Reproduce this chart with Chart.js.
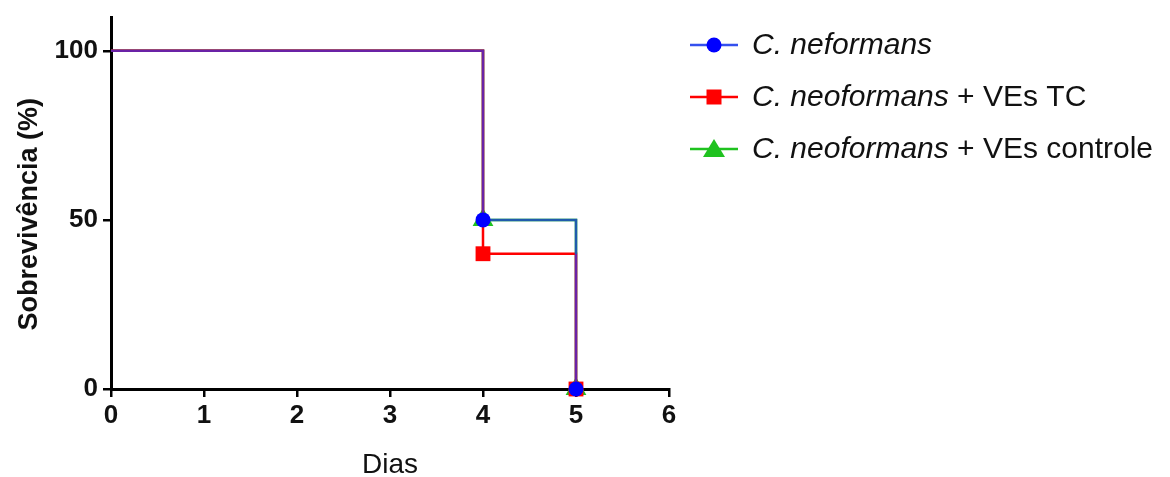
<!DOCTYPE html>
<html>
<head>
<meta charset="utf-8">
<script src="https://cdn.jsdelivr.net/npm/chart.js@4/dist/chart.umd.min.js"></script>
<style>
    html, body { margin: 0; padding: 0; background: #fff; }
    #wrap { width: 1170px; height: 477px; position: relative; }
</style>
</head>
<body>
<div id="wrap"><canvas id="survChart"></canvas></div>
<script>
// Survival data (Kaplan-Meier steps)
const days = [0, 4, 5];
const survNeo = [100, 50, 0];
const survTC = [100, 40, 0];
const survCtrl = [100, 50, 0];
const xTicks = [0, 1, 2, 3, 4, 5, 6];
const yTicks = [0, 50, 100];

const legendItalic = ['C. neformans', 'C. neoformans', 'C. neoformans'];
const legendRest = ['', ' + VEs TC', ' + VEs controle'];

const FONT = "'Liberation Sans', Arial, sans-serif";
const PURPLE = '#6a22a6';
const STEEL = '#1f5bab';

function toPoints(ys) {
    return days.map((d, i) => ({ x: d, y: ys[i] }));
}

// blue line: shared part purple, then steel blue, last drop purple below red level
function neoSegmentColor(ctx) {
    if (ctx.p0DataIndex === 0) return PURPLE;
    const y40 = ctx.chart.scales.y.getPixelForValue(survTC[ctx.p0DataIndex]);
    const y0 = ctx.p0.y, y1 = ctx.p1.y;
    if (y1 - y0 < 1) return STEEL;
    const t = Math.min(1, Math.max(0, (y40 - y0) / (y1 - y0)));
    const g = ctx.chart.ctx.createLinearGradient(0, y0, 0, y1);
    g.addColorStop(0, STEEL);
    g.addColorStop(t, STEEL);
    g.addColorStop(t, PURPLE);
    g.addColorStop(1, PURPLE);
    return g;
}

// custom legend with mixed italic text
const legendPlugin = {
    id: 'customLegend',
    afterDraw(chart) {
        const ctx = chart.ctx;
        const lineColors = ['#3450ee', '#ff0000', '#1fc21f'];
        ctx.save();
        chart.data.datasets.forEach((ds, i) => {
            const y = 45 + i * 52;
            ctx.strokeStyle = lineColors[i];
            ctx.lineWidth = 2.5;
            ctx.beginPath();
            ctx.moveTo(690, y);
            ctx.lineTo(738, y);
            ctx.stroke();
            ctx.fillStyle = ds.pointBackgroundColor;
            ctx.beginPath();
            if (ds.pointStyle === 'circle') {
                ctx.arc(714, y, 7.5, 0, Math.PI * 2);
            } else if (ds.pointStyle === 'rect') {
                ctx.rect(714 - 7.5, y - 7.5, 15, 15);
            } else {
                ctx.moveTo(714, y - 10);
                ctx.lineTo(714 + 11, y + 8);
                ctx.lineTo(714 - 11, y + 8);
                ctx.closePath();
            }
            ctx.fill();

            ctx.fillStyle = '#111';
            ctx.textBaseline = 'middle';
            ctx.font = 'italic 30px ' + FONT;
            ctx.fillText(legendItalic[i], 752, y + 1);
            const w = ctx.measureText(legendItalic[i]).width;
            ctx.font = '30px ' + FONT;
            ctx.fillText(legendRest[i], 752 + w, y + 1);
        });
        ctx.restore();
    }
};

const ctx = document.getElementById('survChart').getContext('2d');
new Chart(ctx, {
    type: 'line',
    data: {
        datasets: [
            {
                label: 'C. neformans',
                data: toPoints(survNeo),
                stepped: 'before',
                borderColor: STEEL,
                borderWidth: 2.5,
                segment: { borderColor: neoSegmentColor },
                pointStyle: 'circle',
                pointRadius: [0, 7.5, 7.5],
                pointBackgroundColor: '#0000ff',
                pointBorderWidth: 0,
                order: 1,
                clip: false
            },
            {
                label: 'C. neoformans + VEs TC',
                data: toPoints(survTC),
                stepped: 'before',
                borderColor: '#ff0000',
                borderWidth: 2.5,
                pointStyle: 'rect',
                pointRadius: [0, 10.5, 10.5],
                pointBackgroundColor: '#ff0000',
                pointBorderWidth: 0,
                order: 2,
                clip: false
            },
            {
                label: 'C. neoformans + VEs controle',
                data: toPoints(survCtrl),
                stepped: 'before',
                borderColor: '#1fc21f',
                borderWidth: 2.5,
                pointStyle: 'triangle',
                pointRadius: [0, 12, 12],
                pointBackgroundColor: '#1fc21f',
                pointBorderWidth: 0,
                order: 3,
                clip: false
            }
        ]
    },
    options: {
        responsive: true,
        maintainAspectRatio: false,
        animation: false,
        layout: { padding: { top: 17, right: 501, left: 0, bottom: 0 } },
        plugins: {
            legend: { display: false },
            tooltip: { enabled: false }
        },
        scales: {
            x: {
                type: 'linear',
                min: 0,
                max: 6,
                afterBuildTicks: axis => { axis.ticks = xTicks.map(v => ({ value: v })); },
                afterFit: axis => { axis.height = 88; },
                grid: { drawOnChartArea: false, color: '#000', lineWidth: 2.5, tickLength: 8 },
                border: { color: '#000', width: 3 },
                ticks: {
                    color: '#111',
                    padding: 3,
                    font: { family: FONT, size: 26, weight: 'bold' }
                },
                title: {
                    display: true,
                    text: 'Dias',
                    color: '#111',
                    padding: { top: 0, bottom: 0 },
                    font: { family: FONT, size: 28, lineHeight: 0.85 }
                }
            },
            y: {
                min: 0,
                max: 110,
                afterBuildTicks: axis => { axis.ticks = yTicks.map(v => ({ value: v })); },
                afterFit: axis => {
                    axis.width = 111;
                    axis.paddingTop = 0;
                    axis.paddingBottom = 0;
                },
                grid: { drawOnChartArea: false, color: '#000', lineWidth: 2.5, tickLength: 8 },
                border: { color: '#000', width: 3 },
                ticks: {
                    color: '#111',
                    padding: 5,
                    font: { family: FONT, size: 26, weight: 'bold' }
                },
                title: {
                    display: true,
                    text: 'Sobrevivência (%)   ',
                    color: '#111',
                    padding: { top: 13, bottom: 0 },
                    font: { family: FONT, size: 27, weight: 'bold' }
                }
            }
        }
    },
    plugins: [legendPlugin]
});
</script>
</body>
</html>
